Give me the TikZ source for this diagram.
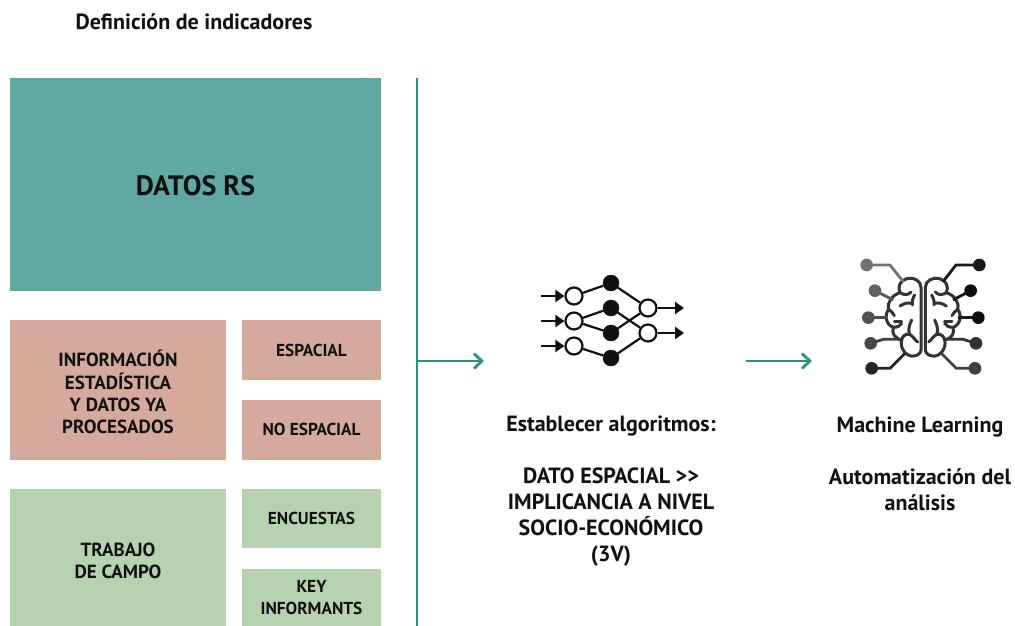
\documentclass[tikz,border=0pt]{standalone}
\usepackage{fontspec}
\setmainfont{PT Sans}
\usetikzlibrary{arrows.meta}
\definecolor{tealbox}{HTML}{5FA8A4}
\definecolor{pinkbox}{HTML}{D5A99B}
\definecolor{greenbox}{HTML}{B7D2AF}
\definecolor{tealline}{HTML}{2A9187}
\definecolor{ink}{HTML}{111111}
\newcommand{\brainhalf}{%
  % outline
  \draw[brainline] (213,300) -- (213,112) .. controls (213,92) and (190,80) .. (170,86)
    .. controls (150,92) and (142,110) .. (150,128) .. controls (128,135) and (110,155) .. (116,178)
    .. controls (102,195) and (108,225) .. (130,232) .. controls (124,250) and (134,265) .. (155,270)
    .. controls (148,295) and (170,322) .. (192,318) .. controls (204,317) and (213,308) .. (213,300);
  % folds
  \draw[brainline] (150,128) .. controls (162,136) and (175,136) .. (183,126);
  \draw[brainline] (187,165) .. controls (185,152) and (190,142) .. (194,135);
  \draw[brainline] (187,160) .. controls (175,158) and (165,158) .. (150,168);
  \draw[brainline] (116,178) .. controls (124,184) and (130,190) .. (133,197);
  \draw[brainline] (133,215) -- (155,215);
  \draw[brainline] (130,232) .. controls (143,232) and (150,228) .. (155,220);
  \draw[brainline] (155,270) .. controls (160,250) and (178,246) .. (190,262);
  \draw[brainline] (178,250) .. controls (174,238) and (178,225) .. (185,210);
  \draw[brainline] (190,262) .. controls (194,268) and (198,272) .. (203,276);
}
\newcommand{\lowered}[2]{\raisebox{#1}[0pt][0pt]{\begin{tabular}{@{}c@{}}#2\end{tabular}}}
\tikzset{
  box/.style={draw=none,inner sep=0pt,align=center,text=ink,font=\fontsize{17.3}{22}\selectfont\bfseries},
  bigbox/.style={box,font=\fontsize{19}{22}\selectfont\bfseries},
  caption/.style={inner sep=0pt,align=center,text=ink,font=\fontsize{22}{26}\selectfont\bfseries},
  tealarrow/.style={draw=tealline,line width=2.8pt,-{Straight Barb[length=8pt,width=15pt,line width=2.8pt]}},
  whiten/.style={circle,draw=ink,line width=2.2pt,fill=white,minimum size=17pt,inner sep=0pt},
  blackn/.style={circle,draw=ink,fill=ink,minimum size=16pt,inner sep=0pt},
  net/.style={draw=ink,line width=2.2pt},
  netarrow/.style={draw=ink,line width=2.2pt,-{Triangle[length=9pt,width=12pt]}},
  brainline/.style={draw=brainc,line width=3pt,line cap=round,line join=round},
  stem/.style={line width=2.8pt,line join=round},
}
\colorlet{brainc}{black!80}
\begin{document}
\begin{tikzpicture}[x=1pt,y=-1pt]
\useasboundingbox (0,0) rectangle (1015,626);
\fill[white] (0,0) rectangle (1015,626);
\node[caption] (title) at (194,22) {Definición de indicadores};
% boxes
\node[box,fill=tealbox,minimum width=371pt,minimum height=213pt,font=\fontsize{28}{30}\selectfont\bfseries] (rs) at (195.5,184.5) {\raisebox{-11.3pt}[0pt][0pt]{DATOS RS}};
\node[bigbox,fill=pinkbox,minimum width=216pt,minimum height=140pt] (info) at (118,390) {\lowered{-9.4pt}{INFORMACIÓN\\ESTADÍSTICA\\Y DATOS YA\\PROCESADOS}};
\node[box,fill=pinkbox,minimum width=139pt,minimum height=60pt] (esp) at (311.5,350) {ESPACIAL};
\node[box,fill=pinkbox,minimum width=139pt,minimum height=60pt] (noesp) at (311.5,430) {\raisebox{1pt}{NO ESPACIAL}};
\node[bigbox,fill=greenbox,minimum width=216pt,minimum height=137pt] (campo) at (118,557.5) {\lowered{-10.4pt}{TRABAJO\\DE CAMPO}};
\node[box,fill=greenbox,minimum width=139pt,minimum height=59pt] (enc) at (311.5,518.5) {\raisebox{-1pt}{ENCUESTAS}};
\node[box,fill=greenbox,minimum width=139pt,minimum height=57pt] (key) at (311.5,597.5) {KEY\\INFORMANTS};
% divider and arrows
\coordinate (vtop) at (417,78);
\coordinate (vbot) at (417,626);
\coordinate (vmid) at (417,361);
\coordinate (a1) at (484,361);
\coordinate (a2s) at (746,361);
\coordinate (a2e) at (812,361);
\draw[draw=tealline,line width=2pt] (vtop) -- (vbot);
\draw[tealarrow] (vmid) -- (a1);
\draw[tealarrow] (a2s) -- (a2e);
% network
\node[whiten] (i1) at (574,296) {};
\node[whiten] (i2) at (574,321) {};
\node[whiten] (i3) at (574,346) {};
\node[blackn] (h1) at (611,283) {};
\node[blackn] (h2) at (611,308) {};
\node[blackn] (h3) at (611,333) {};
\node[blackn] (h4) at (611,358) {};
\node[whiten] (o1) at (648,308) {};
\node[whiten] (o2) at (648,333) {};
\coordinate (s1) at (541,296);
\coordinate (s2) at (541,321);
\coordinate (s3) at (541,346);
\coordinate (e1) at (684,308);
\coordinate (e2) at (684,333);
\draw[net] (i1)--(h1) (i2)--(h2) (i2)--(h3) (i3)--(h4);
\draw[net] (h1)--(o1) (h2)--(o2) (h3)--(o1) (h4)--(o2);
\draw[netarrow] (s1)--(i1);
\draw[netarrow] (s2)--(i2);
\draw[netarrow] (s3)--(i3);
\draw[netarrow] (o1)--(e1);
\draw[netarrow] (o2)--(e2);
% brain
\begin{scope}[shift={(850,250)},x=0.3333pt,y=-0.3333pt]
  \brainhalf
  \begin{scope}[xscale=-1,shift={(-439,0)}]\brainhalf\end{scope}
  % left terminals
  \draw[stem,draw=black!55] (50,45) -- (120,45) -- (160,95);
  \fill[black!55] (50,45) circle (19);
  \draw[stem,draw=black!65] (75,122) -- (130,150);
  \fill[black!62] (75,122) circle (19);
  \draw[stem,draw=black!70] (55,203) -- (115,203);
  \fill[black!68] (55,203) circle (19);
  \draw[stem,draw=black!75] (62,280) -- (100,268) -- (150,268);
  \fill[black!72] (62,280) circle (19);
  \draw[stem,draw=black!85] (65,355) -- (120,355) -- (165,310);
  \fill[black!85] (65,355) circle (19);
  % right terminals
  \draw[stem,draw=black!90] (388,45) -- (318,45) -- (279,95);
  \fill[black!90] (388,45) circle (19);
  \draw[stem,draw=black!90] (362,122) -- (309,150);
  \fill[black!95] (362,122) circle (19);
  \draw[stem,draw=black!90] (385,203) -- (324,203);
  \fill[black!95] (385,203) circle (19);
  \draw[stem,draw=black!80] (378,280) -- (339,268) -- (289,268);
  \fill[black!80] (378,280) circle (19);
  \draw[stem,draw=black!75] (375,355) -- (319,355) -- (274,310);
  \fill[black!75] (375,355) circle (19);
\end{scope}
% captions
\node[caption] (algo) at (611,491) {Establecer algoritmos:\\[26pt]DATO ESPACIAL {>}{>}\\IMPLICANCIA A NIVEL\\SOCIO-ECONÓMICO\\(3V)};
\node[caption] (ml) at (920,464) {Machine Learning\\[26pt]Automatización del\\análisis};
\end{tikzpicture}
\end{document}
